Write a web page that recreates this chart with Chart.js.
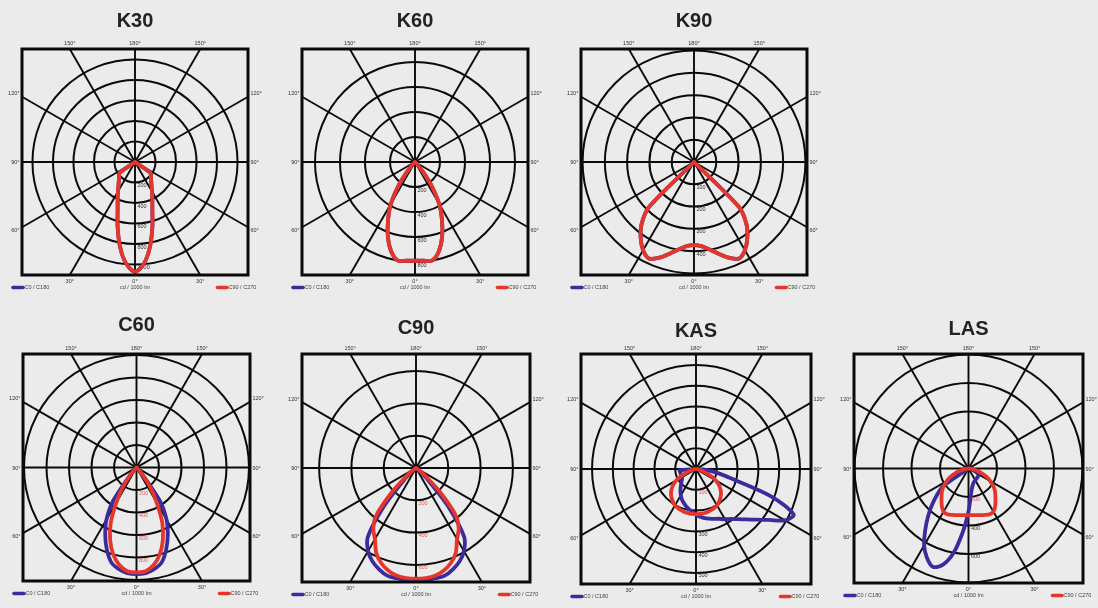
<!DOCTYPE html>
<html>
<head>
<meta charset="utf-8">
<script src="https://cdn.jsdelivr.net/npm/chart.js@4.4.0/dist/chart.umd.min.js"></script>
<style>
  body { margin: 0; background: #ebebeb; width: 1098px; height: 608px; position: relative; overflow: hidden; }
  .panel { position: absolute; }
</style>
</head>
<body>
<script>
// gamma angles (deg from nadir) shared by every curve
const gammas = [0, 5, 10, 15, 20, 25, 30, 35, 40, 45, 50, 55, 60, 65, 70, 75, 80, 85, 90];

// intensities in cd / 1000 lm, one value per gamma
const k30Beam = [1070, 995, 840, 655, 495, 400, 332, 281, 246, 221, 201, 185, 0, 0, 0, 0, 0, 0, 0];
const k60Beam = [790, 793, 800, 739, 635, 510, 387, 228, 83, 24, 0, 0, 0, 0, 0, 0, 0, 0, 0];
const k90Beam = [373, 379, 399, 426, 457, 478, 457, 417, 367, 287, 0, 0, 0, 0, 0, 0, 0, 0, 0];
const c60C0 = [948, 942, 916, 871, 773, 658, 533, 361, 90, 18, 0, 0, 0, 0, 0, 0, 0, 0, 0];
const c60C90 = [933, 925, 880, 800, 685, 542, 356, 208, 71, 18, 0, 0, 0, 0, 0, 0, 0, 0, 0];
const c90C0 = [698, 696, 693, 690, 668, 638, 594, 520, 306, 105, 31, 10, 0, 0, 0, 0, 0, 0, 0];
const c90C90 = [685, 684, 678, 659, 628, 582, 508, 461, 384, 210, 74, 25, 0, 0, 0, 0, 0, 0, 0];
const kasC0 = [219, 230, 240, 247, 255, 264, 279, 293, 315, 343, 379, 427, 494, 518, 384, 173, 101, 48, 0];
const kasC180 = [219, 207, 196, 185, 173, 161, 146, 131, 115, 101, 90, 82, 78, 77, 77, 77, 78, 79, 0];
const kasC90 = [218, 217, 216, 214, 211, 207, 202, 193, 182, 170, 154, 134, 110, 77, 43, 19, 5, 0, 0];
const lasC0 = [302, 190, 140, 119, 105, 100, 95, 92, 90, 88, 87, 85, 78, 67, 50, 35, 21, 7, 0];
const lasC180 = [302, 444, 601, 701, 734, 691, 623, 530, 443, 363, 289, 215, 0, 0, 0, 0, 0, 0, 0];
const lasC90 = [328, 329, 333, 339, 347, 354, 351, 326, 295, 267, 242, 211, 176, 140, 102, 67, 35, 14, 0];

// rings and the values printed along the 0° axis
const k30Rings = [200, 400, 600, 800, 1000];
const k30Ticks = [200, 400, 600, 800, 1000];
const k60Rings = [200, 400, 600, 800];
const k60Ticks = [200, 400, 600, 800];
const k90Rings = [100, 200, 300, 400, 500];
const k90Ticks = [100, 200, 300, 400];
const c60Rings = [200, 400, 600, 800, 1000];
const c60Ticks = [200, 400, 600, 800];
const c90Rings = [200, 400, 600];
const c90Ticks = [200, 400, 600];
const kasRings = [100, 200, 300, 400, 500];
const kasTicks = [100, 300, 400, 500];
const lasRings = [200, 400, 600, 800];
const lasTicks = [200, 400, 600];

const BLUE = '#3b2c9c';
const RED = '#e5362b';
const FONT = '"Liberation Sans", Arial, sans-serif';

const panels = [
  { title: 'K30', left: 22, top: 49, size: 226, titleOff: 28, max: 1102, rings: k30Rings, ticks: k30Ticks, redTicks: [], blue: [k30Beam, k30Beam], red: [k30Beam, k30Beam] },
  { title: 'K60', left: 302, top: 49, size: 226, titleOff: 28, max: 904, rings: k60Rings, ticks: k60Ticks, redTicks: [], blue: [k60Beam, k60Beam], red: [k60Beam, k60Beam] },
  { title: 'K90', left: 581, top: 49, size: 226, titleOff: 28, max: 507, rings: k90Rings, ticks: k90Ticks, redTicks: [], blue: [k90Beam, k90Beam], red: [k90Beam, k90Beam] },
  { title: 'C60', left: 23, top: 354, size: 227, titleOff: 29, max: 1009, rings: c60Rings, ticks: c60Ticks, redTicks: c60Ticks, blue: [c60C0, c60C0], red: [c60C90, c60C90] },
  { title: 'C90', left: 302, top: 354, size: 228, titleOff: 26, max: 706, rings: c90Rings, ticks: c90Ticks, redTicks: c90Ticks, blue: [c90C0, c90C0], red: [c90C90, c90C90] },
  { title: 'KAS', left: 581, top: 354, size: 230, titleOff: 23, max: 553, rings: kasRings, ticks: kasTicks, redTicks: [100], blue: [kasC180, kasC0], red: [kasC90, kasC90] },
  { title: 'LAS', left: 854, top: 354, size: 229, titleOff: 25, max: 804, rings: lasRings, ticks: lasTicks, redTicks: [200], blue: [lasC180, lasC0], red: [lasC90, lasC90] }
];

// left half goes from 90° down to 0°, right half back up to 90°
function curve(left, right) {
  const pts = [];
  for (let i = gammas.length - 1; i >= 0; i--) {
    const g = gammas[i] * Math.PI / 180;
    pts.push({ x: -left[i] * Math.sin(g), y: -left[i] * Math.cos(g) });
  }
  for (let i = 1; i < gammas.length; i++) {
    const g = gammas[i] * Math.PI / 180;
    pts.push({ x: right[i] * Math.sin(g), y: -right[i] * Math.cos(g) });
  }
  return pts;
}

function polarGrid(p) {
  return {
    id: 'polarGrid',
    beforeDatasetsDraw(chart) {
      const ctx = chart.ctx;
      const a = chart.chartArea;
      const xs = chart.scales.x, ys = chart.scales.y;
      const cx = xs.getPixelForValue(0), cy = ys.getPixelForValue(0);
      const half = (a.right - a.left) / 2;
      ctx.save();
      ctx.strokeStyle = '#0a0a0a';
      ctx.lineWidth = 2;
      p.rings.forEach(v => {
        const r = xs.getPixelForValue(v) - cx;
        ctx.beginPath();
        ctx.arc(cx, cy, r, 0, Math.PI * 2);
        ctx.stroke();
      });
      ctx.beginPath();
      ctx.rect(a.left, a.top, a.right - a.left, a.bottom - a.top);
      ctx.clip();
      ctx.lineWidth = 1.9;
      for (let d = 0; d < 180; d += 30) {
        const t = d * Math.PI / 180;
        const dx = Math.sin(t) * half * 2, dy = Math.cos(t) * half * 2;
        ctx.beginPath();
        ctx.moveTo(cx - dx, cy - dy);
        ctx.lineTo(cx + dx, cy + dy);
        ctx.stroke();
      }
      ctx.restore();

      // value labels along the 0° axis
      ctx.save();
      ctx.font = '5.5px ' + FONT;
      ctx.textAlign = 'left';
      ctx.textBaseline = 'middle';
      p.ticks.forEach(v => {
        const r = xs.getPixelForValue(v) - cx;
        ctx.fillStyle = p.redTicks.includes(v) ? '#ea5a4e' : '#333';
        ctx.fillText(String(v), cx + 2.5, cy + r + 3);
      });
      ctx.restore();
    },
    afterDraw(chart) {
      const ctx = chart.ctx;
      const a = chart.chartArea;
      const cx = (a.left + a.right) / 2, cy = (a.top + a.bottom) / 2;
      const half = (a.right - a.left) / 2;
      const off = half * Math.tan(Math.PI / 6);
      ctx.save();
      ctx.strokeStyle = '#0a0a0a';
      ctx.lineWidth = 3;
      ctx.strokeRect(a.left, a.top, a.right - a.left, a.bottom - a.top);

      ctx.fillStyle = '#333';
      ctx.font = '5.5px ' + FONT;
      ctx.textBaseline = 'middle';
      ctx.textAlign = 'center';
      ctx.fillText('150°', cx - off, a.top - 6);
      ctx.fillText('180°', cx, a.top - 6);
      ctx.fillText('150°', cx + off, a.top - 6);
      ctx.fillText('30°', cx - off, a.bottom + 6);
      ctx.fillText('0°', cx, a.bottom + 6);
      ctx.fillText('30°', cx + off, a.bottom + 6);
      const side = [['120°', cy - off - 3], ['90°', cy + 0.5], ['60°', cy + off + 3]];
      side.forEach(([t, y]) => {
        ctx.textAlign = 'right';
        ctx.fillText(t, a.left - 2.5, y);
        ctx.textAlign = 'left';
        ctx.fillText(t, a.right + 2.5, y);
      });

      // legend row
      const ly = a.bottom + 12.5;
      ctx.lineCap = 'round';
      ctx.lineWidth = 3.6;
      ctx.strokeStyle = BLUE;
      ctx.beginPath(); ctx.moveTo(a.left - 9, ly); ctx.lineTo(a.left + 1, ly); ctx.stroke();
      ctx.strokeStyle = RED;
      ctx.beginPath(); ctx.moveTo(a.right - 30.5, ly); ctx.lineTo(a.right - 21, ly); ctx.stroke();
      ctx.fillStyle = '#444';
      ctx.textAlign = 'left';
      ctx.fillText('C0 / C180', a.left + 2.5, ly);
      ctx.fillText('C90 / C270', a.right - 19.5, ly);
      ctx.textAlign = 'center';
      ctx.fillText('cd / 1000 lm', cx, ly);

      ctx.fillStyle = '#222';
      ctx.font = 'bold 20px ' + FONT;
      ctx.fillText(p.title, cx, a.top - p.titleOff);
      ctx.restore();
    }
  };
}

const pad = { left: 32, right: 32, top: 52, bottom: 28 };

panels.forEach(p => {
  const div = document.createElement('div');
  div.className = 'panel';
  div.style.left = (p.left - pad.left) + 'px';
  div.style.top = (p.top - pad.top) + 'px';
  div.style.width = (p.size + pad.left + pad.right) + 'px';
  div.style.height = (p.size + pad.top + pad.bottom) + 'px';
  const canvas = document.createElement('canvas');
  div.appendChild(canvas);
  document.body.appendChild(div);

  new Chart(canvas, {
    type: 'scatter',
    data: {
      datasets: [
        // higher order is drawn first, so red ends up on top
        { label: 'C0 / C180', data: curve(p.blue[0], p.blue[1]), borderColor: BLUE, order: 2 },
        { label: 'C90 / C270', data: curve(p.red[0], p.red[1]), borderColor: RED, order: 1 }
      ]
    },
    options: {
      responsive: true,
      maintainAspectRatio: false,
      animation: false,
      layout: { padding: pad },
      datasets: {
        scatter: {
          showLine: true,
          pointRadius: 0,
          borderWidth: 3.8,
          tension: 0.3,
          borderJoinStyle: 'round',
          borderCapStyle: 'round',
          clip: false
        }
      },
      scales: {
        x: { type: 'linear', min: -p.max, max: p.max, display: false },
        y: { type: 'linear', min: -p.max, max: p.max, display: false }
      },
      plugins: { legend: { display: false }, tooltip: { enabled: false } }
    },
    plugins: [polarGrid(p)]
  });
});
</script>
</body>
</html>
